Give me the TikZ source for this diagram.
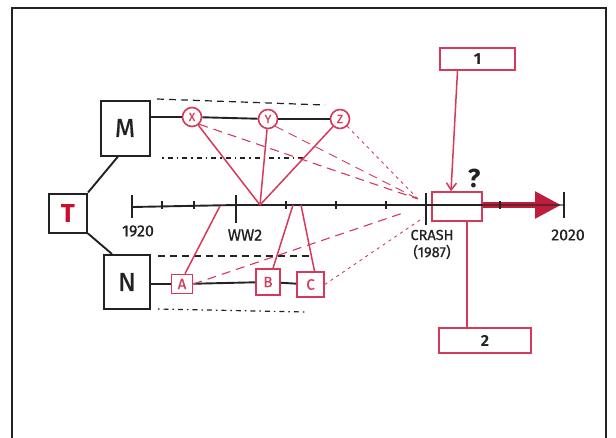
\documentclass[tikz,border=0pt]{standalone}
\usepackage{fontspec}
\setmainfont{Fira Sans}
\newfontfamily\markfont{Fira Sans}[FakeBold=0.6]
\usetikzlibrary{arrows.meta}
\definecolor{ink}{HTML}{222222}
\definecolor{pen}{HTML}{D63A5A}
\definecolor{tred}{HTML}{C8102E}
\definecolor{deepred}{HTML}{BE1E3C}
\begin{document}
\begin{tikzpicture}[x=1pt,y=-1pt,
  inkbox/.style={draw=ink,line width=2pt,fill=white,inner sep=0pt,text=ink,font=\markfont\fontsize{26}{26}\selectfont},
  penbox/.style={draw=pen,line width=1.6pt,fill=white,inner sep=0pt,text=pen,font=\markfont\fontsize{15}{15}\selectfont},
  penring/.style={circle,draw=pen,line width=1.6pt,fill=white,inner sep=0pt,minimum size=19pt,text=pen,font=\markfont\fontsize{12}{12}\selectfont},
  inkline/.style={draw=ink,line width=1.9pt},
  penline/.style={draw=pen,line width=1.5pt},
  pendash/.style={draw=pen,line width=1.1pt,dash pattern=on 9pt off 6pt},
  pendot/.style={draw=pen,line width=0.9pt,dash pattern=on 3pt off 4pt},
  guide/.style={draw=ink,line width=1.2pt,dash pattern=on 7pt off 5pt},
  guidedot/.style={draw=ink,line width=1.2pt,dash pattern=on 1.5pt off 4pt on 5pt off 4pt},
  lbl/.style={text=ink,font=\markfont\fontsize{15}{15}\selectfont,inner sep=0pt},
  ticmark/.style={draw=ink,line width=1.9pt}
]
\fill[white] (0,0) rectangle (616,437);
\useasboundingbox (0,0) rectangle (616,437);
\draw[ink,line width=2.2pt] (12,450) -- (12,8) -- (606,8) -- (606,450);

% guides
\coordinate (g1a) at (157,99); \coordinate (g1b) at (325,105);
\coordinate (g2a) at (162,158); \coordinate (g2b) at (307,158);
\coordinate (g3a) at (158,256); \coordinate (g3b) at (313,256);
\coordinate (g4a) at (158,309); \coordinate (g4b) at (305,312);
\draw[guide] (g1a) -- (g1b);
\draw[guidedot] (g2a) -- (g2b);
\draw[guide] (g3a) -- (g3b);
\draw[guidedot] (g4a) -- (g4b);

% timeline
\coordinate (tl0) at (132,207);
\coordinate (tlw) at (236,205);
\coordinate (tlc) at (426,205);
\coordinate (tle) at (564,205);
\coordinate (arrtip) at (561,205);

% nodes
\node[inkbox,minimum width=49pt,minimum height=55pt] (M) at (125,128) {M};
\node[inkbox,minimum width=38pt,minimum height=39pt,text=tred,font=\bfseries\fontsize{26}{26}\selectfont] (T) at (68,213) {T};
\node[inkbox,minimum width=46pt,minimum height=54pt] (N) at (127,282) {N};
\node[penring] (X) at (192,117) {X};
\node[penring] (Y) at (268,119) {Y};
\node[penring] (Z) at (340,119) {Z};
\node[penbox,minimum width=21pt,minimum height=19pt] (A) at (182,284) {A};
\node[penbox,minimum width=24pt,minimum height=26pt] (B) at (268,282) {B};
\node[penbox,minimum width=27pt,minimum height=25pt] (C) at (310.5,284.5) {C};
\node[penbox,minimum width=75pt,minimum height=22pt,font=\bfseries\fontsize{16}{16}\selectfont,text=ink] (B1) at (477.5,59) {1};
\node[penbox,minimum width=92pt,minimum height=25pt,font=\bfseries\fontsize{16}{16}\selectfont,text=ink] (B2) at (485,340.5) {2};

% red thick arrow
\node[draw=pen,line width=1.6pt,inner sep=0pt,minimum width=50pt,minimum height=29pt] (Q) at (457,206.5) {};
\draw[deepred,line width=5.5pt,-{Triangle[length=26pt,width=26pt]}] (Q.east |- tlc) -- (arrtip);

% timeline line and ticks
\draw[inkline] (tl0) -- (tlw) -- (tlc) -- (Q.east |- tlc);
\draw[ink,line width=1.2pt,opacity=0.55] (Q.east |- tlc) -- (tle);
\foreach \tx in {162,194,286,336,386,500} \draw[ticmark] (\tx,201) -- (\tx,209);
\draw[ticmark] (132,195) -- (132,218);
\draw[ticmark] (236,195) -- (236,223);
\draw[ticmark] (426,193) -- (426,225);
\draw[ticmark] (564,192) -- (564,218);

% labels
\node[lbl,font=\markfont\fontsize{16}{16}\selectfont] (l1920) at (138,231) {1920};
\node[lbl,font=\markfont\fontsize{16}{16}\selectfont] (lww2) at (245,235) {WW2};
\node[lbl,font=\markfont\fontsize{14.5}{14.5}\selectfont] (lcrash) at (432,235) {CRASH};
\node[lbl,font=\markfont\fontsize{14.5}{14.5}\selectfont] (l1987) at (432,252) {(1987)};
\node[lbl,font=\markfont\fontsize{16}{16}\selectfont] (l2020) at (568,235) {2020};
\node[lbl,font=\bfseries\fontsize{26}{26}\selectfont] (qm) at (474,178) {?};

% black connectors
\draw[inkline] (T.north east) -- ([xshift=-7pt]M.south);
\draw[inkline] (T.south east) -- ([xshift=-15pt]N.north);
\draw[inkline] (M.east |- X.west) -- (X.west);
\draw[inkline] (X) -- (Y);
\draw[inkline] (Y) -- (Z);
\draw[inkline] (N.east |- A.west) -- (A.west);
\draw[inkline] (A) -- (B);
\draw[inkline] (B) -- (C);

% red connectors
\coordinate (jxyz) at (260,205);
\coordinate (ja) at (220,206);
\coordinate (jb) at (293,205);
\coordinate (jc) at (301,205);
\draw[penline] (X) -- (jxyz);
\draw[penline] (Y) -- (jxyz);
\draw[penline] (Z) -- (jxyz);
\draw[penline] ([xshift=3pt]A.north) -- (ja);
\draw[penline] ([xshift=5pt]B.north) -- (jb);
\draw[penline] ([xshift=4pt]C.north) -- (jc);

\coordinate (cr) at (418,199);
\coordinate (cr2) at (406,212);
\coordinate (cr3) at (420,220);
\draw[pendash] (X.south east) -- (cr);
\draw[pendash,line width=0.9pt] (Y.south east) -- (cr);
\draw[pendot] (Z.south east) -- (cr);
\draw[pendash] (A.east) -- (cr2);
\draw[pendot] (C.east) -- (cr3);

\draw[penline,-{Straight Barb[length=7pt,width=10pt]}] ([xshift=-20pt]B1.south) -- ([xshift=-6pt]Q.north);
\draw[penline] ([xshift=10pt]Q.south) -- ([xshift=-18pt]B2.north);
\end{tikzpicture}
\end{document}
